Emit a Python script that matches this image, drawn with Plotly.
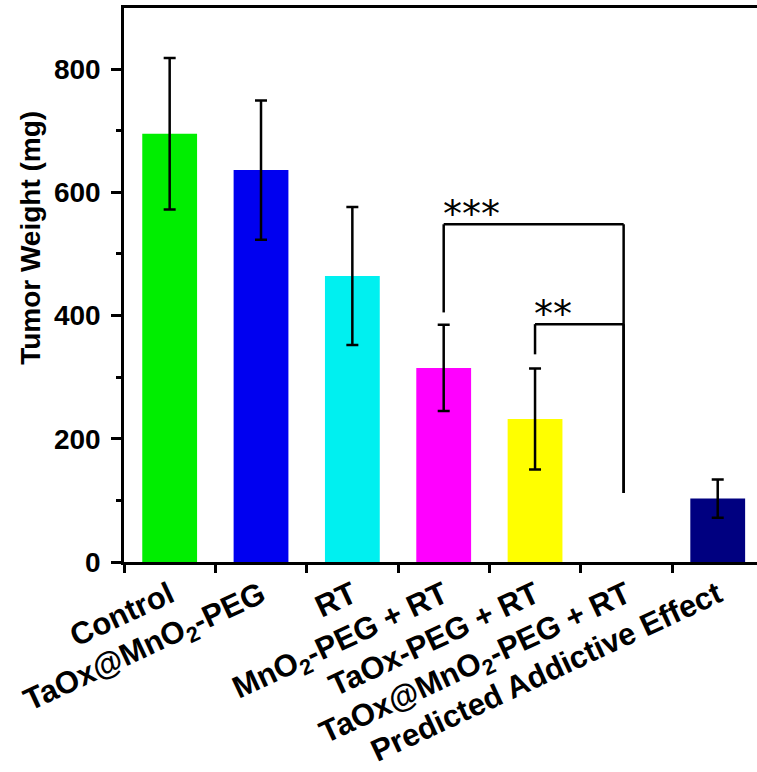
import plotly.graph_objects as go

# Tumor weight per treatment group (mg), mean and standard deviation
groups = [
    "Control",
    "TaOx@MnO<sub>2</sub>-PEG",
    "RT",
    "MnO<sub>2</sub>-PEG + RT",
    "TaOx-PEG + RT",
    "TaOx@MnO<sub>2</sub>-PEG + RT",
    "Predicted Addictive Effect",
]
weight_mean = [695, 636, 464, 315, 232, None, 103]
weight_sd = [123, 113, 112, 70, 82, 0, 31]
bar_colors = ["#00EE00", "#0000F0", "#00F0F0", "#FF00FF", "#FFFF00", "#FFFFFF", "#000080"]

y_ticks = [0, 200, 400, 600, 800]

# significance brackets: (from group, to group, bracket height, left foot, right foot, label)
brackets = [
    (3, 5, 548, 405, 112, "***"),
    (4, 5, 386, 337, 112, "**"),
]

FONT = "Liberation Sans, Arial, sans-serif"
x_pos = list(range(len(groups)))

fig = go.Figure()
fig.add_trace(go.Bar(
    x=x_pos,
    y=weight_mean,
    width=0.6,
    marker=dict(color=bar_colors, line=dict(width=0)),
    error_y=dict(type="data", array=weight_sd, visible=True,
                 color="black", thickness=2.5, width=6),
    showlegend=False,
))

shapes = []
annotations = []
for x0, x1, top, foot0, foot1, label in brackets:
    line = dict(color="black", width=2.5)
    shapes.append(dict(type="line", xref="x", yref="y", x0=x0, x1=x0, y0=foot0, y1=top, line=line))
    shapes.append(dict(type="line", xref="x", yref="y", x0=x0, x1=x1 - 0.03, y0=top, y1=top, line=line))
    shapes.append(dict(type="line", xref="x", yref="y", x0=x1 - 0.03, x1=x1 - 0.03, y0=top, y1=foot1, line=line))
    annotations.append(dict(x=x0 - 0.03, y=top, xref="x", yref="y", text=label,
                            showarrow=False, xanchor="left", yanchor="bottom", yshift=-14,
                            font=dict(family="DejaVu Sans, sans-serif", size=38, color="black")))

# y-axis title, placed a little above the axis centre
annotations.append(dict(x=-0.147, y=0.585, xref="paper", yref="paper", text="Tumor Weight (mg)",
                        showarrow=False, textangle=-90, xanchor="center", yanchor="middle",
                        font=dict(family=FONT, size=28, color="black", weight="bold")))

fig.update_layout(
    width=757, height=772,
    margin=dict(l=124, r=0, t=8, b=210),
    paper_bgcolor="white", plot_bgcolor="white",
    shapes=shapes, annotations=annotations,
    xaxis=dict(
        range=[-0.5, 6.43],
        tickmode="array", tickvals=x_pos, ticktext=groups,
        ticks="", tickangle=-25,
        tickfont=dict(family=FONT, size=31, color="black", weight="bold"),
        showline=True, linecolor="black", linewidth=2.5, mirror=True,
        showgrid=False, zeroline=False,
        minor=dict(tickmode="linear", tick0=-0.5, dtick=1, ticks="outside",
                   ticklen=8, tickwidth=2.5, tickcolor="black"),
    ),
    yaxis=dict(
        range=[0, 899],
        tickmode="array", tickvals=y_ticks,
        ticks="outside", ticklen=10, tickwidth=2.5, tickcolor="black",
        ticklabelstandoff=5,
        tickfont=dict(family=FONT, size=28, color="black", weight="bold"),
        showline=True, linecolor="black", linewidth=2.5, mirror=False,
        showgrid=False, zeroline=False,
        minor=dict(tickmode="linear", tick0=100, dtick=200, ticks="outside",
                   ticklen=5, tickwidth=2.5, tickcolor="black"),
    ),
)

fig.write_html("out.html")
